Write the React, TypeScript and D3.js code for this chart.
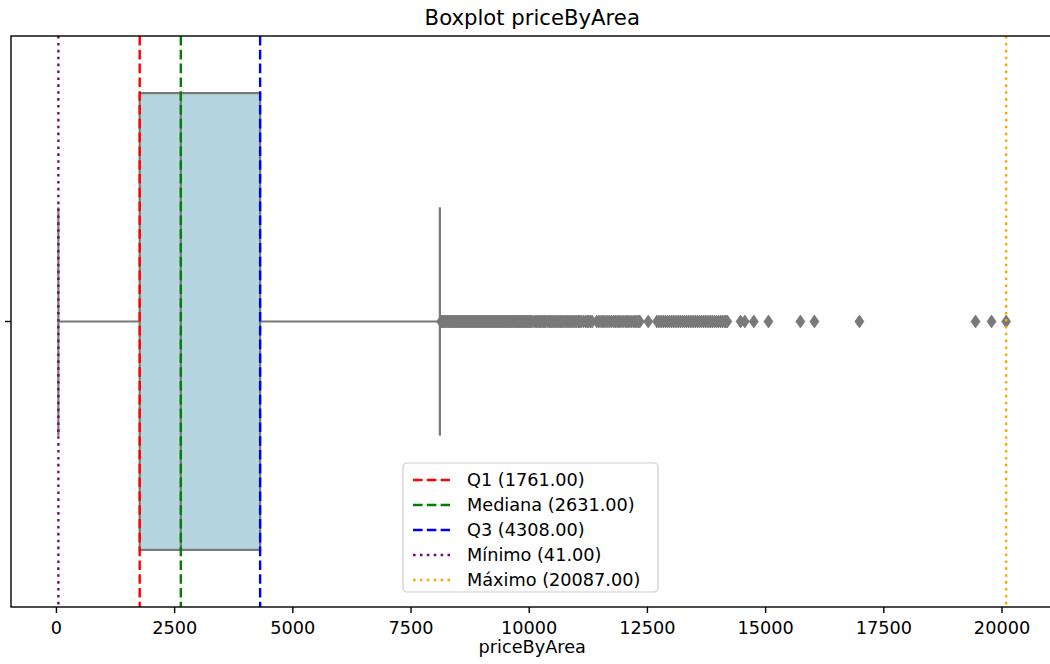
import React from "react";
import * as d3 from "d3";

// Summary statistics of priceByArea
const q1 = 1761;
const median = 2631;
const q3 = 4308;
const minimum = 41;
const maximum = 20087;
const whiskerLow = 41;
const whiskerHigh = 8110;

// Points beyond the upper whisker
const outliers = [
  8135, 8150, 8170, 8190, 8210, 8225, 8240, 8265, 8290, 8310, 8330, 8350, 8370, 8395,
  8420, 8440, 8460, 8480, 8500, 8525, 8550, 8570, 8590, 8615, 8640, 8660, 8680, 8700,
  8720, 8745, 8770, 8790, 8810, 8835, 8860, 8880, 8900, 8925, 8950, 8970, 8990, 9015,
  9040, 9060, 9080, 9105, 9130, 9150, 9170, 9195, 9220, 9240, 9260, 9285, 9310, 9330,
  9350, 9375, 9400, 9425, 9450, 9470, 9490, 9515, 9540, 9560, 9580, 9605, 9630, 9655,
  9680, 9700, 9720, 9745, 9770, 9790, 9810, 9835, 9860, 9880, 9900, 9925, 9950, 9975,
  10000, 10020, 10040, 10080, 10120, 10150, 10180, 10210, 10240, 10270, 10300, 10325,
  10350, 10385, 10420, 10445, 10470, 10500, 10530, 10565, 10600, 10630, 10660, 10690,
  10720, 10755, 10790, 10820, 10850, 10880, 10910, 10945, 10980, 11010, 11040, 11070,
  11100, 11145, 11190, 11225, 11260, 11295, 11330, 11430, 11475, 11520, 11560, 11600,
  11645, 11690, 11735, 11780, 11820, 11860, 11900, 11940, 11985, 12030, 12070, 12110,
  12155, 12200, 12240, 12280, 12310, 12340, 12517, 12700, 12745, 12790, 12835, 12880,
  12925, 12970, 13015, 13060, 13105, 13150, 13195, 13240, 13285, 13330, 13375, 13420,
  13465, 13510, 13555, 13600, 13645, 13690, 13735, 13780, 13825, 13870, 13915, 13960,
  14005, 14050, 14090, 14130, 14160, 14190, 14470, 14560, 14750, 15060, 15735, 16032,
  16984, 19440, 19779, 20087,
];

const xTicks = [0, 2500, 5000, 7500, 10000, 12500, 15000, 17500, 20000];

const refLines = [
  { label: "Q1", value: q1, color: "#ff0000", dash: "9.6,4.2" },
  { label: "Mediana", value: median, color: "#008000", dash: "9.6,4.2" },
  { label: "Q3", value: q3, color: "#0000ff", dash: "9.6,4.2" },
  { label: "Mínimo", value: minimum, color: "#800080", dash: "2.6,4.3" },
  { label: "Máximo", value: maximum, color: "#ffa500", dash: "2.6,4.3" },
];

const W = 1050;
const H = 664;
const left = 11;
const right = 1053.5;
const top = 36;
const bottom = 607;
const font = "'DejaVu Sans', sans-serif";
const ink = "#000000";
const boxFill = "#b5d5df";
const gray = "#797979";

export default function App() {
  const x = d3.scaleLinear().domain([-961, 21089]).range([left, right]);
  const y = d3.scaleLinear().domain([-0.5, 0.5]).range([top, bottom]);
  const cy = y(0);
  const diamond = (px: number) =>
    `M${px},${cy - 6.4}L${px + 4.5},${cy}L${px},${cy + 6.4}L${px - 4.5},${cy}Z`;

  const legendX = 403;
  const legendY = 463;
  const rowH = 25;

  return (
    <svg
      width={W}
      height={H}
      style={{ position: "absolute", left: 0, top: 0, background: "#fff" }}
    >
      <defs>
        <clipPath id="plot-clip">
          <rect x={left} y={top} width={right - left} height={bottom - top} />
        </clipPath>
      </defs>

      <g clipPath="url(#plot-clip)">
        {/* box */}
        <rect
          x={x(q1)}
          y={y(-0.4)}
          width={x(q3) - x(q1)}
          height={y(0.4) - y(-0.4)}
          fill={boxFill}
          stroke={gray}
          strokeWidth={2.2}
        />
        {/* whiskers */}
        <line x1={x(whiskerLow)} x2={x(q1)} y1={cy} y2={cy} stroke={gray} strokeWidth={2.2} />
        <line x1={x(q3)} x2={x(whiskerHigh)} y1={cy} y2={cy} stroke={gray} strokeWidth={2.2} />
        <line x1={x(whiskerLow)} x2={x(whiskerLow)} y1={y(-0.2)} y2={y(0.2)} stroke={gray} strokeWidth={2.2} />
        <line x1={x(whiskerHigh)} x2={x(whiskerHigh)} y1={y(-0.2)} y2={y(0.2)} stroke={gray} strokeWidth={2.2} />
        {/* median */}
        <line x1={x(median)} x2={x(median)} y1={y(-0.4)} y2={y(0.4)} stroke={gray} strokeWidth={2.2} />
        {/* outliers */}
        {outliers.map((v, i) => (
          <path key={i} d={diamond(x(v))} fill={gray} stroke={gray} strokeWidth={0.8} />
        ))}
        {/* reference lines */}
        {refLines.map((r) => (
          <line
            key={r.label}
            x1={x(r.value)}
            x2={x(r.value)}
            y1={top}
            y2={bottom}
            stroke={r.color}
            strokeWidth={2.4}
            strokeDasharray={r.dash}
          />
        ))}
      </g>

      {/* frame */}
      <rect x={left} y={top} width={right - left} height={bottom - top} fill="none" stroke={ink} strokeWidth={1.4} />

      {/* x axis */}
      {xTicks.map((t) => (
        <g key={t} transform={`translate(${x(t)},${bottom})`}>
          <line y1={0} y2={6} stroke={ink} strokeWidth={1.4} />
          <text y={27} textAnchor="middle" fontFamily={font} fontSize={17.7} fill={ink}>
            {t}
          </text>
        </g>
      ))}
      <line x1={left - 6} x2={left} y1={cy} y2={cy} stroke={ink} strokeWidth={1.4} />

      <text x={(left + right) / 2} y={653} textAnchor="middle" fontFamily={font} fontSize={17.7} fill={ink}>
        priceByArea
      </text>
      <text x={(left + right) / 2} y={25} textAnchor="middle" fontFamily={font} fontSize={21.2} fill={ink}>
        Boxplot priceByArea
      </text>

      {/* legend */}
      <rect
        x={legendX}
        y={legendY}
        width={255}
        height={129}
        rx={4}
        fill="#ffffff"
        fillOpacity={0.8}
        stroke="#cccccc"
        strokeWidth={1.2}
      />
      {refLines.map((r, i) => {
        const ry = legendY + 17 + i * rowH;
        return (
          <g key={r.label}>
            <line
              x1={legendX + 10}
              x2={legendX + 47}
              y1={ry}
              y2={ry}
              stroke={r.color}
              strokeWidth={2.4}
              strokeDasharray={r.dash}
            />
            <text x={legendX + 64} y={ry + 6} fontFamily={font} fontSize={17.7} fill={ink}>
              {`${r.label} (${r.value.toFixed(2)})`}
            </text>
          </g>
        );
      })}
    </svg>
  );
}
